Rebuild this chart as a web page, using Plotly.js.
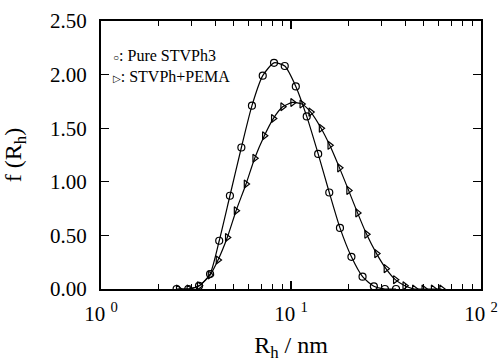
<!DOCTYPE html>
<html>
<head>
<meta charset="utf-8">
<script src="https://cdn.plot.ly/plotly-3.0.1.min.js"></script>
<style>html,body{margin:0;padding:0;background:#fff;}#chart{width:498px;height:362px;}</style>
</head>
<body>
<div id="chart"></div>
<script>
// Pure STVPh3 (circles)
const pureRh = [2.50, 2.88, 3.28, 3.75, 4.19, 4.77, 5.48, 6.23, 7.10, 8.14, 9.27, 10.6, 12.1, 13.9, 15.9, 18.1, 20.8, 23.8, 27.3, 31.2, 35.7];
const pureF  = [0.00, 0.00, 0.03, 0.14, 0.45, 0.87, 1.32, 1.71, 1.99, 2.11, 2.08, 1.89, 1.61, 1.26, 0.90, 0.57, 0.30, 0.115, 0.025, 0.00, 0.00];
// STVPh + PEMA (triangles)
const pemaRh = [2.55, 2.90, 3.29, 3.75, 4.13, 4.62, 5.14, 5.80, 6.44, 7.24, 8.07, 9.04, 10.2, 11.4, 12.7, 14.4, 16.0, 18.0, 20.1, 22.4, 25.0, 28.2, 31.6, 35.4, 39.7, 44.6, 50.0, 56.0, 62.0];
const pemaF  = [0.00, 0.00, 0.03, 0.13, 0.27, 0.48, 0.73, 0.98, 1.22, 1.43, 1.59, 1.70, 1.74, 1.725, 1.65, 1.50, 1.34, 1.13, 0.92, 0.71, 0.51, 0.33, 0.19, 0.087, 0.03, 0.00, 0.00, 0.00, 0.00];
const seriesNames = ["Pure STVPh3", "STVPh+PEMA"];
const xTickVals = [1, 10, 100];
const xTickText = ["10 <sup>0</sup>", "10 <sup>1</sup>", "10 <sup>2</sup>"];
const yTickVals = [0, 0.5, 1.0, 1.5, 2.0, 2.5];

const font = "Times New Roman, Liberation Serif, DejaVu Serif, serif";
const traces = [
  {x: pureRh, y: pureF, mode: "lines+markers", name: seriesNames[0],
   line: {color: "#000", width: 1.2, shape: "spline", smoothing: 0.6},
   marker: {symbol: "circle-open", size: 7, color: "#000", line: {width: 1.2}}},
  {x: pemaRh, y: pemaF, mode: "lines+markers", name: seriesNames[1],
   line: {color: "#000", width: 1.2, shape: "spline", smoothing: 0.6},
   marker: {symbol: "triangle-right-open", size: 7, color: "#000", line: {width: 1.2}}}
];
const layout = {
  width: 498, height: 362,
  margin: {l: 101, r: 17, t: 21, b: 73},
  paper_bgcolor: "#fff", plot_bgcolor: "#fff",
  showlegend: false,
  font: {family: font, color: "#000", size: 18},
  xaxis: {
    type: "log", range: [0, 2],
    tickmode: "array", tickvals: xTickVals, ticktext: xTickText,
    ticks: "inside", ticklen: 8, tickwidth: 1.2, tickcolor: "#000",
    minor: {ticks: "inside", ticklen: 5, tickwidth: 1, tickcolor: "#000", dtick: "D1", showgrid: false},
    showline: true, linewidth: 2, linecolor: "#000", mirror: "ticks",
    showgrid: false, zeroline: false,
    ticklabelstandoff: 5,
    tickfont: {family: font, size: 21},
    title: {text: "R<sub>h</sub> / nm", font: {family: font, size: 24}, standoff: 27}
  },
  yaxis: {
    range: [0, 2.5],
    tickmode: "array", tickvals: yTickVals, tickformat: ".2f",
    ticks: "inside", ticklen: 8, tickwidth: 1.2, tickcolor: "#000",
    showline: true, linewidth: 2, linecolor: "#000", mirror: "ticks",
    showgrid: false, zeroline: false,
    ticklabelstandoff: 8,
    tickfont: {family: font, size: 21},
    title: {text: "f (R<sub>h</sub>)", font: {family: font, size: 24}, standoff: 26}
  },
  annotations: [
    {xref: "paper", yref: "paper", x: 0.026, y: 0.872, xanchor: "left", yanchor: "middle", showarrow: false,
     text: "<span style='font-size:10px'>○</span>: " + seriesNames[0], font: {family: font, size: 16}},
    {xref: "paper", yref: "paper", x: 0.026, y: 0.794, xanchor: "left", yanchor: "middle", showarrow: false,
     text: "<span style='font-size:10px'>▷</span>: " + seriesNames[1], font: {family: font, size: 16}}
  ]
};
Plotly.newPlot("chart", traces, layout, {displayModeBar: false, staticPlot: true});
</script>
</body>
</html>
